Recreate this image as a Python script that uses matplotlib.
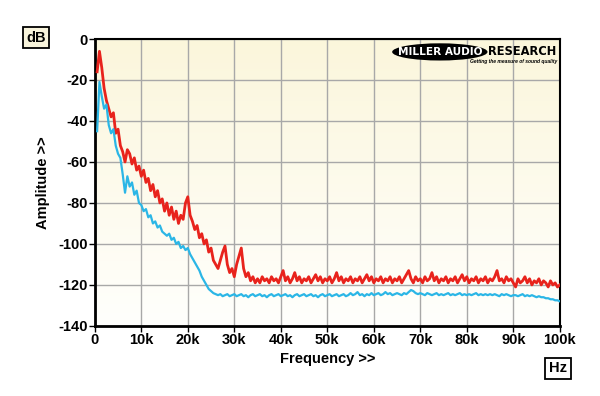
import numpy as np
import matplotlib
matplotlib.use("Agg")
import matplotlib.pyplot as plt
from matplotlib.patches import Ellipse

# frequency bins (kHz) and the two traces (dB)
freq_khz = np.arange(0.5, 100.01, 0.5)

red_db = [
    -16, -6, -14, -24, -30, -34, -38, -36, -46, -44,
    -52, -55, -60, -54, -56, -61, -58, -64, -62, -67,
    -64, -70, -68, -74, -71, -77, -74, -80, -78, -84,
    -80, -86, -82, -88, -84, -90, -86, -88, -80, -77,
    -86, -89, -93, -91, -97, -95, -100, -98, -104, -102,
    -108, -110, -112, -108, -104, -101, -110, -114, -112, -116,
    -110, -106, -102, -112, -116, -114, -118, -116, -119, -117,
    -119, -116, -118, -117, -119, -116, -118, -117, -119, -116,
    -113, -118, -116, -119, -117, -114, -118, -116, -119, -117,
    -118, -116, -119, -117, -115, -118, -116, -119, -117, -118,
    -116, -119, -117, -114, -118, -116, -119, -117, -118, -116,
    -119, -117, -118, -116, -119, -117, -115, -118, -116, -119,
    -117, -118, -116, -119, -117, -118, -116, -119, -117, -118,
    -116, -119, -117, -115, -113, -117, -119, -116, -118, -117,
    -119, -116, -118, -117, -114, -118, -116, -119, -117, -118,
    -116, -119, -117, -118, -116, -119, -117, -115, -118, -116,
    -119, -117, -118, -116, -119, -117, -118, -116, -119, -117,
    -118, -116, -113, -118, -117, -119, -116, -118, -117, -119,
    -121, -117, -119, -118, -116, -119, -117, -120, -118, -119,
    -117, -120, -118, -119, -121, -118, -120, -119, -121, -120,
]

blue_db = [
    -45, -21, -28, -34, -32, -42, -46, -44, -52, -56,
    -58, -66, -75, -67, -72, -70, -76, -74, -80, -81,
    -84, -83, -87, -86, -90, -89, -92, -91, -94, -95,
    -96, -95, -98, -97, -100, -99, -102, -101, -103, -102,
    -105, -107, -109, -111, -113, -116, -118, -120, -122, -123,
    -124, -124.5, -125, -124.5, -125.5, -125, -124.5, -125.5, -125, -124.5,
    -125.5, -125, -124.5, -125.5, -125, -126, -125, -124.5, -125.5, -125,
    -124.5, -125.5, -125, -126, -125, -124.5, -125.5, -125, -124.5, -125.5,
    -125, -124.5, -125.5, -125, -126, -125, -124.5, -125.5, -125, -124.5,
    -125.5, -125, -124.5, -125.5, -125, -126, -125, -124.5, -125.5, -125,
    -124.5, -125.5, -125, -124.5, -125.5, -125, -124.5, -125.5, -125, -124,
    -125, -124.5, -123.5, -125, -124.5, -125.5, -124.5, -125, -124, -125,
    -124.5, -124, -125, -124.5, -123.5, -124.5, -124, -125, -124.5, -124,
    -124.5, -125, -124, -124.5, -123.5, -122.5, -123, -124, -124.5, -124,
    -124.5, -125, -124, -124.5, -125, -124.5, -124, -125, -124.5, -125,
    -124.5, -124, -125, -124.5, -125, -124.5, -124, -125, -124.5, -125,
    -124.5, -125, -124.5, -124, -125, -124.5, -125, -124.5, -125, -124.5,
    -125, -124.5, -125, -125.5, -124.5, -125, -124.5, -125, -125.5, -125,
    -125, -125.5, -125, -124.5, -125.5, -125, -125.5, -125, -125.5, -126,
    -125.5, -126, -126, -126.5, -126.5, -127, -127, -127.5, -127.5, -128,
]

x_ticks = [0, 10, 20, 30, 40, 50, 60, 70, 80, 90, 100]
x_labels = ["0", "10k", "20k", "30k", "40k", "50k", "60k", "70k", "80k", "90k", "100k"]
y_ticks = [0, -20, -40, -60, -80, -100, -120, -140]
y_labels = ["0", "-20", "-40", "-60", "-80", "-100", "-120", "-140"]

plt.rcParams['font.family'] = ['Liberation Sans', 'DejaVu Sans']

fig = plt.figure(figsize=(6, 3.96), dpi=100, facecolor="white")
ax = fig.add_axes([0.158, 0.177, 0.775, 0.7245])

# cream gradient background
grad = np.linspace(0, 1, 256).reshape(-1, 1)
top = np.array([0.985, 0.965, 0.86])
bot = np.array([1.0, 1.0, 0.99])
img = top[None, None, :] * (1 - grad[:, :, None]) + bot[None, None, :] * grad[:, :, None]
ax.imshow(img, extent=[0, 1, 0, 1], transform=ax.transAxes, aspect="auto", zorder=0)

ax.set_xlim(0, 100)
ax.set_ylim(-140, 0)
ax.grid(True, color="#a8a8a8", linewidth=1.0, zorder=1)
ax.set_axisbelow(True)

ax.plot(freq_khz, red_db, color="#e8231c", linewidth=2.0, zorder=3)
ax.plot(freq_khz, blue_db, color="#2bb6e6", linewidth=1.6, zorder=4)

ax.set_xticks(x_ticks)
ax.set_xticklabels(x_labels, fontsize=10.5, fontweight="bold")
ax.set_yticks(y_ticks)
ax.set_yticklabels(y_labels, fontsize=10.5, fontweight="bold")
ax.tick_params(direction="out", length=4, width=1, pad=1)

for side in ["left", "bottom"]:
    ax.spines[side].set_linewidth(2)
for side in ["top", "right"]:
    ax.spines[side].set_linewidth(1.5)

ax.set_xlabel("Frequency >>", fontsize=10.5, fontweight="bold", labelpad=4)
ax.set_ylabel("Amplitude >>", fontsize=10.5, fontweight="bold", labelpad=6)

box = dict(boxstyle="square,pad=0.25", facecolor="#f8f4dc", edgecolor="black", linewidth=1.3)
fig.text(0.06, 0.905, "dB", fontsize=10.5, fontweight="bold", ha="center", va="center", bbox=box)
fig.text(0.930, 0.07, "Hz", fontsize=10.5, fontweight="bold", ha="center", va="center",
         bbox=dict(boxstyle="square,pad=0.25", facecolor="white", edgecolor="black", linewidth=1.3))

# logo
ax.add_patch(Ellipse((0.742, 0.955), 0.205, 0.06, transform=ax.transAxes,
                     facecolor="black", edgecolor="none", zorder=5))
ax.text(0.742, 0.955, "MILLER AUDIO", transform=ax.transAxes, color="white",
        fontsize=7.6, fontweight="bold", family="DejaVu Sans",
        ha="center", va="center", zorder=6)
ax.text(0.845, 0.955, "RESEARCH", transform=ax.transAxes, color="black",
        fontsize=8.3, fontweight="bold", family="DejaVu Sans",
        ha="left", va="center", zorder=6)
ax.text(0.994, 0.922, "Getting the measure of sound quality", transform=ax.transAxes,
        color="black", fontsize=3.6, fontweight="bold", style="italic",
        ha="right", va="center", zorder=6)

fig.savefig("out.png", dpi=100, facecolor="white")
